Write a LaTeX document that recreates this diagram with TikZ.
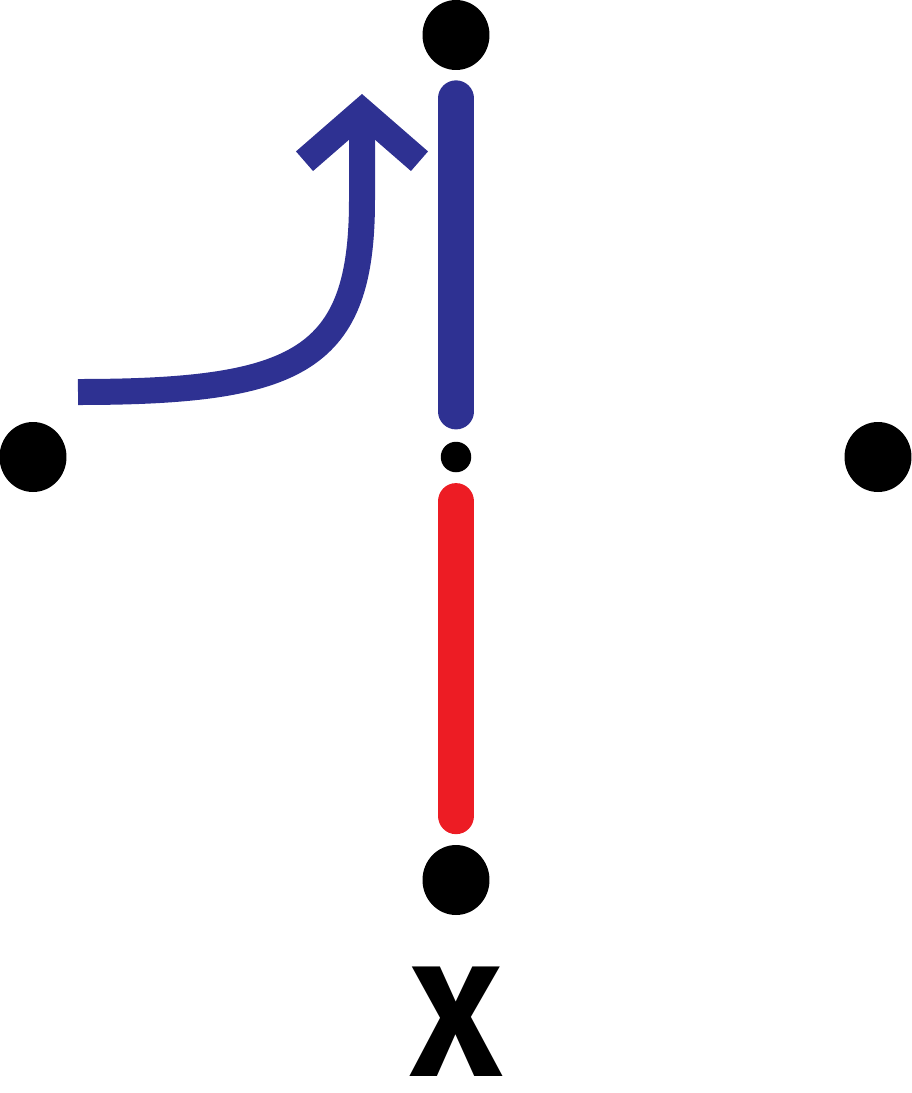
\documentclass[tikz,border=0pt]{standalone}
\usepackage{fontspec}
\newfontfamily\markfont{Fira Sans}
\usetikzlibrary{shapes.geometric, arrows.meta, calc}
\definecolor{moveblue}{HTML}{2E3192}
\definecolor{movered} {HTML}{ED1C24}

\begin{document}
\begin{tikzpicture}[
    x=0.02cm, y=-0.02cm,
    dot/.style={
        ellipse, fill=black, draw=none,
        minimum width=1.34cm, minimum height=1.40cm,
        inner sep=0pt
    },
    smalldot/.style={
        circle, fill=black, draw=none,
        minimum size=0.61cm, inner sep=0pt
    },
    bar/.style={line width=0.72cm, line cap=round},
    turn/.style={
        line width=0.52cm, draw=moveblue,
        -{Straight Barb[length=1.0cm, width=2.3cm]}
    },
    lbl/.style={font=\markfont\bfseries\fontsize{90}{90}\selectfont, inner sep=0pt}
]

% ── CANVAS ─────────────────────────────────────────────────────
\useasboundingbox (0, 0) rectangle (912, 1093);

% === DOTS ===
\node[dot] (top)   at (456, 35)  {};
\node[dot] (left)  at (33, 457)  {};
\node[dot] (right) at (878, 457) {};
\node[dot] (bot)   at (456, 880) {};
\node[smalldot] (mid) at (456, 457) {};

% === LABEL ===
\node[lbl] (xmark) at (456, 1022) {X};

% ── CONNECTORS ─────────────────────────────────────────────────
\coordinate (turnstart) at (78, 392);
\coordinate (turntip)   at (362, 94);

% Top → centre
\draw[bar, draw=moveblue, shorten <=0.56cm, shorten >=0.60cm]
    (top.south) -- (mid.north);

% Centre → bottom
\draw[bar, draw=movered, line width=0.74cm, shorten <=0.58cm, shorten >=0.58cm]
    (mid.south) -- (bot.north);

% Turn arrow
\draw[turn] (turnstart)
    .. controls (300, 392) and (362, 360) .. (362, 200)
    -- (turntip);

\end{tikzpicture}
\end{document}
